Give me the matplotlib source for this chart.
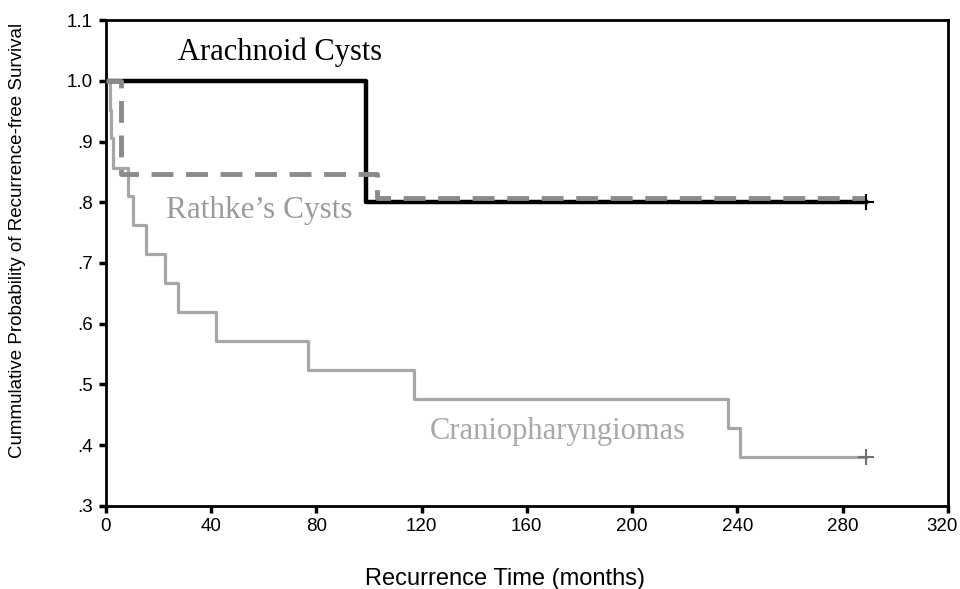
import matplotlib.pyplot as plt
import matplotlib.transforms as mtransforms

# Kaplan-Meier style step curves (months, survival)
arach_t = [0, 99, 289]
arach_s = [1.0, 0.80, 0.80]

rathke_t = [0, 6, 103, 289]
rathke_s = [1.0, 0.846, 0.807, 0.807]

cranio_t = [0, 1.5, 2, 2.7, 8.5, 10.5, 15.5, 22.5, 27.5, 42, 77, 117, 236.5, 241, 289]
cranio_s = [1.0, 0.952, 0.905, 0.857, 0.810, 0.762, 0.714, 0.667, 0.619, 0.571,
            0.524, 0.476, 0.429, 0.381, 0.381]

xticks = [0, 40, 80, 120, 160, 200, 240, 280, 320]
yticks = [0.3, 0.4, 0.5, 0.6, 0.7, 0.8, 0.9, 1.0, 1.1]
ytick_labels = ['.3', '.4', '.5', '.6', '.7', '.8', '.9', '1.0', '1.1']

fig = plt.figure(figsize=(9.6, 5.89), dpi=100)
ax = fig.add_axes([0.110, 0.141, 0.8775, 0.825])

ax.step(arach_t, arach_s, where='post', color='black', lw=3.2, zorder=3)
ax.step(rathke_t, rathke_s, where='post', color='#8a8a8a', lw=3.5,
        linestyle=(0, (4.5, 2.6)), zorder=4)
ax.step(cranio_t, cranio_s, where='post', color='#a6a6a6', lw=2.3, zorder=2)

# censored marks at the end
ax.plot(arach_t[-1], arach_s[-1], marker='+', color='black', ms=11, mew=1.5, zorder=5)
ax.plot(cranio_t[-1], cranio_s[-1], marker='+', color='#707070', ms=11, mew=1.5, zorder=5)

ax.text(27.5, 1.047, 'Arachnoid Cysts', family='Liberation Serif',
        fontsize=22, color='black', va='center', ha='left')
ax.text(23, 0.787, "Rathke\u2019s Cysts", family='Liberation Serif',
        fontsize=22.5, color='#9a9a9a', va='center', ha='left')
ax.text(123, 0.422, 'Craniopharyngiomas', family='Liberation Serif',
        fontsize=22, color='#a8a8a8', va='center', ha='left')

ax.set_xlim(0, 320)
ax.set_ylim(0.3, 1.1)
ax.set_xticks(xticks)
ax.set_yticks(yticks)
ax.set_yticklabels(ytick_labels)
for lab in ax.get_xticklabels() + ax.get_yticklabels():
    lab.set_family('Liberation Sans')
    lab.set_fontsize(13.5)
ax.tick_params(direction='out', length=5, width=2.5, pad=4)

# keep the last x label inside the figure
last = ax.get_xticklabels()[-1]
last.set_transform(last.get_transform() + mtransforms.ScaledTranslation(-0.06, 0, fig.dpi_scale_trans))

for sp in ax.spines.values():
    sp.set_linewidth(2)

fig.text(505 / 960, 1 - 579 / 589, 'Recurrence Time (months)', family='Liberation Sans',
         fontsize=17, ha='center', va='center')
fig.text(18 / 960, 1 - 240 / 589, 'Cummulative Probability of Recurrence-free Survival',
         family='Liberation Sans', fontsize=13.5, rotation=90, ha='center', va='center')

fig.savefig('out.png', dpi=100)
